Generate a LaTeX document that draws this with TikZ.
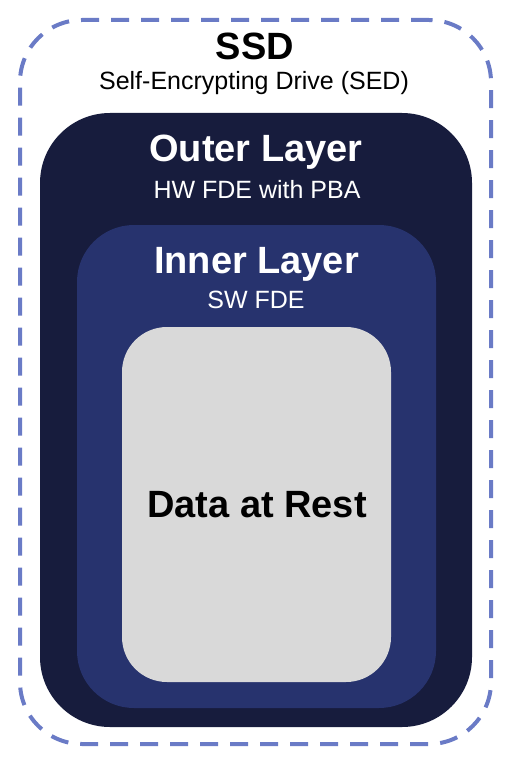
\documentclass[tikz,border=0pt]{standalone}
\usepackage{fontspec}
\setmainfont{Liberation Sans}
\definecolor{dashblue}{HTML}{6A7BC6}
\definecolor{outernavy}{HTML}{171C3D}
\definecolor{innerblue}{HTML}{27336E}
\definecolor{restgray}{HTML}{D9D9D9}

\begin{document}
\begin{tikzpicture}[x=1pt, y=-1pt,
				layer box/.style={rectangle, draw=none, inner sep=0pt, outer sep=0pt},
				ssd box/.style={layer box, draw=dashblue, line width=4pt,%
                dash pattern=on 18pt off 12pt, rounded corners=62pt},
				head/.style={anchor=base, font=\fontsize{38}{42}\selectfont\bfseries},
				sub/.style={anchor=base, font=\fontsize{25}{29}\selectfont}
    			]
\useasboundingbox (0,0) rectangle (508,762);

%% Nested boxes, outside in
\node (ssd) [ssd box, minimum width=471pt, minimum height=724pt] at (255.5,382) {};
\node (outer) [layer box, fill=outernavy, rounded corners=70pt,
               minimum width=432pt, minimum height=614pt] at (256,420) {};
\node (inner) [layer box, fill=innerblue, rounded corners=57pt,
               minimum width=359pt, minimum height=483pt] at (256.5,466.5) {};
\node (rest) [layer box, fill=restgray, rounded corners=45pt,
              minimum width=269pt, minimum height=355pt] at (256.5,504.5) {};

%% Labels
\node (ssdname) [head] at (255,60) {SSD};
\node (ssdsub) [sub] at (254,89.5) {Self-Encrypting Drive (SED)};

\node (outername) [head, text=white] at (256,162) {Outer Layer};
\node (outersub) [sub, text=white] at (257,198) {HW FDE with PBA};

\node (innername) [head, text=white] at (256.5,273) {Inner Layer};
\node (innersub) [sub, text=white] at (256,308) {SW FDE};

\node (restname) [head] at (257,517) {Data at Rest};

\end{tikzpicture}
\end{document}
